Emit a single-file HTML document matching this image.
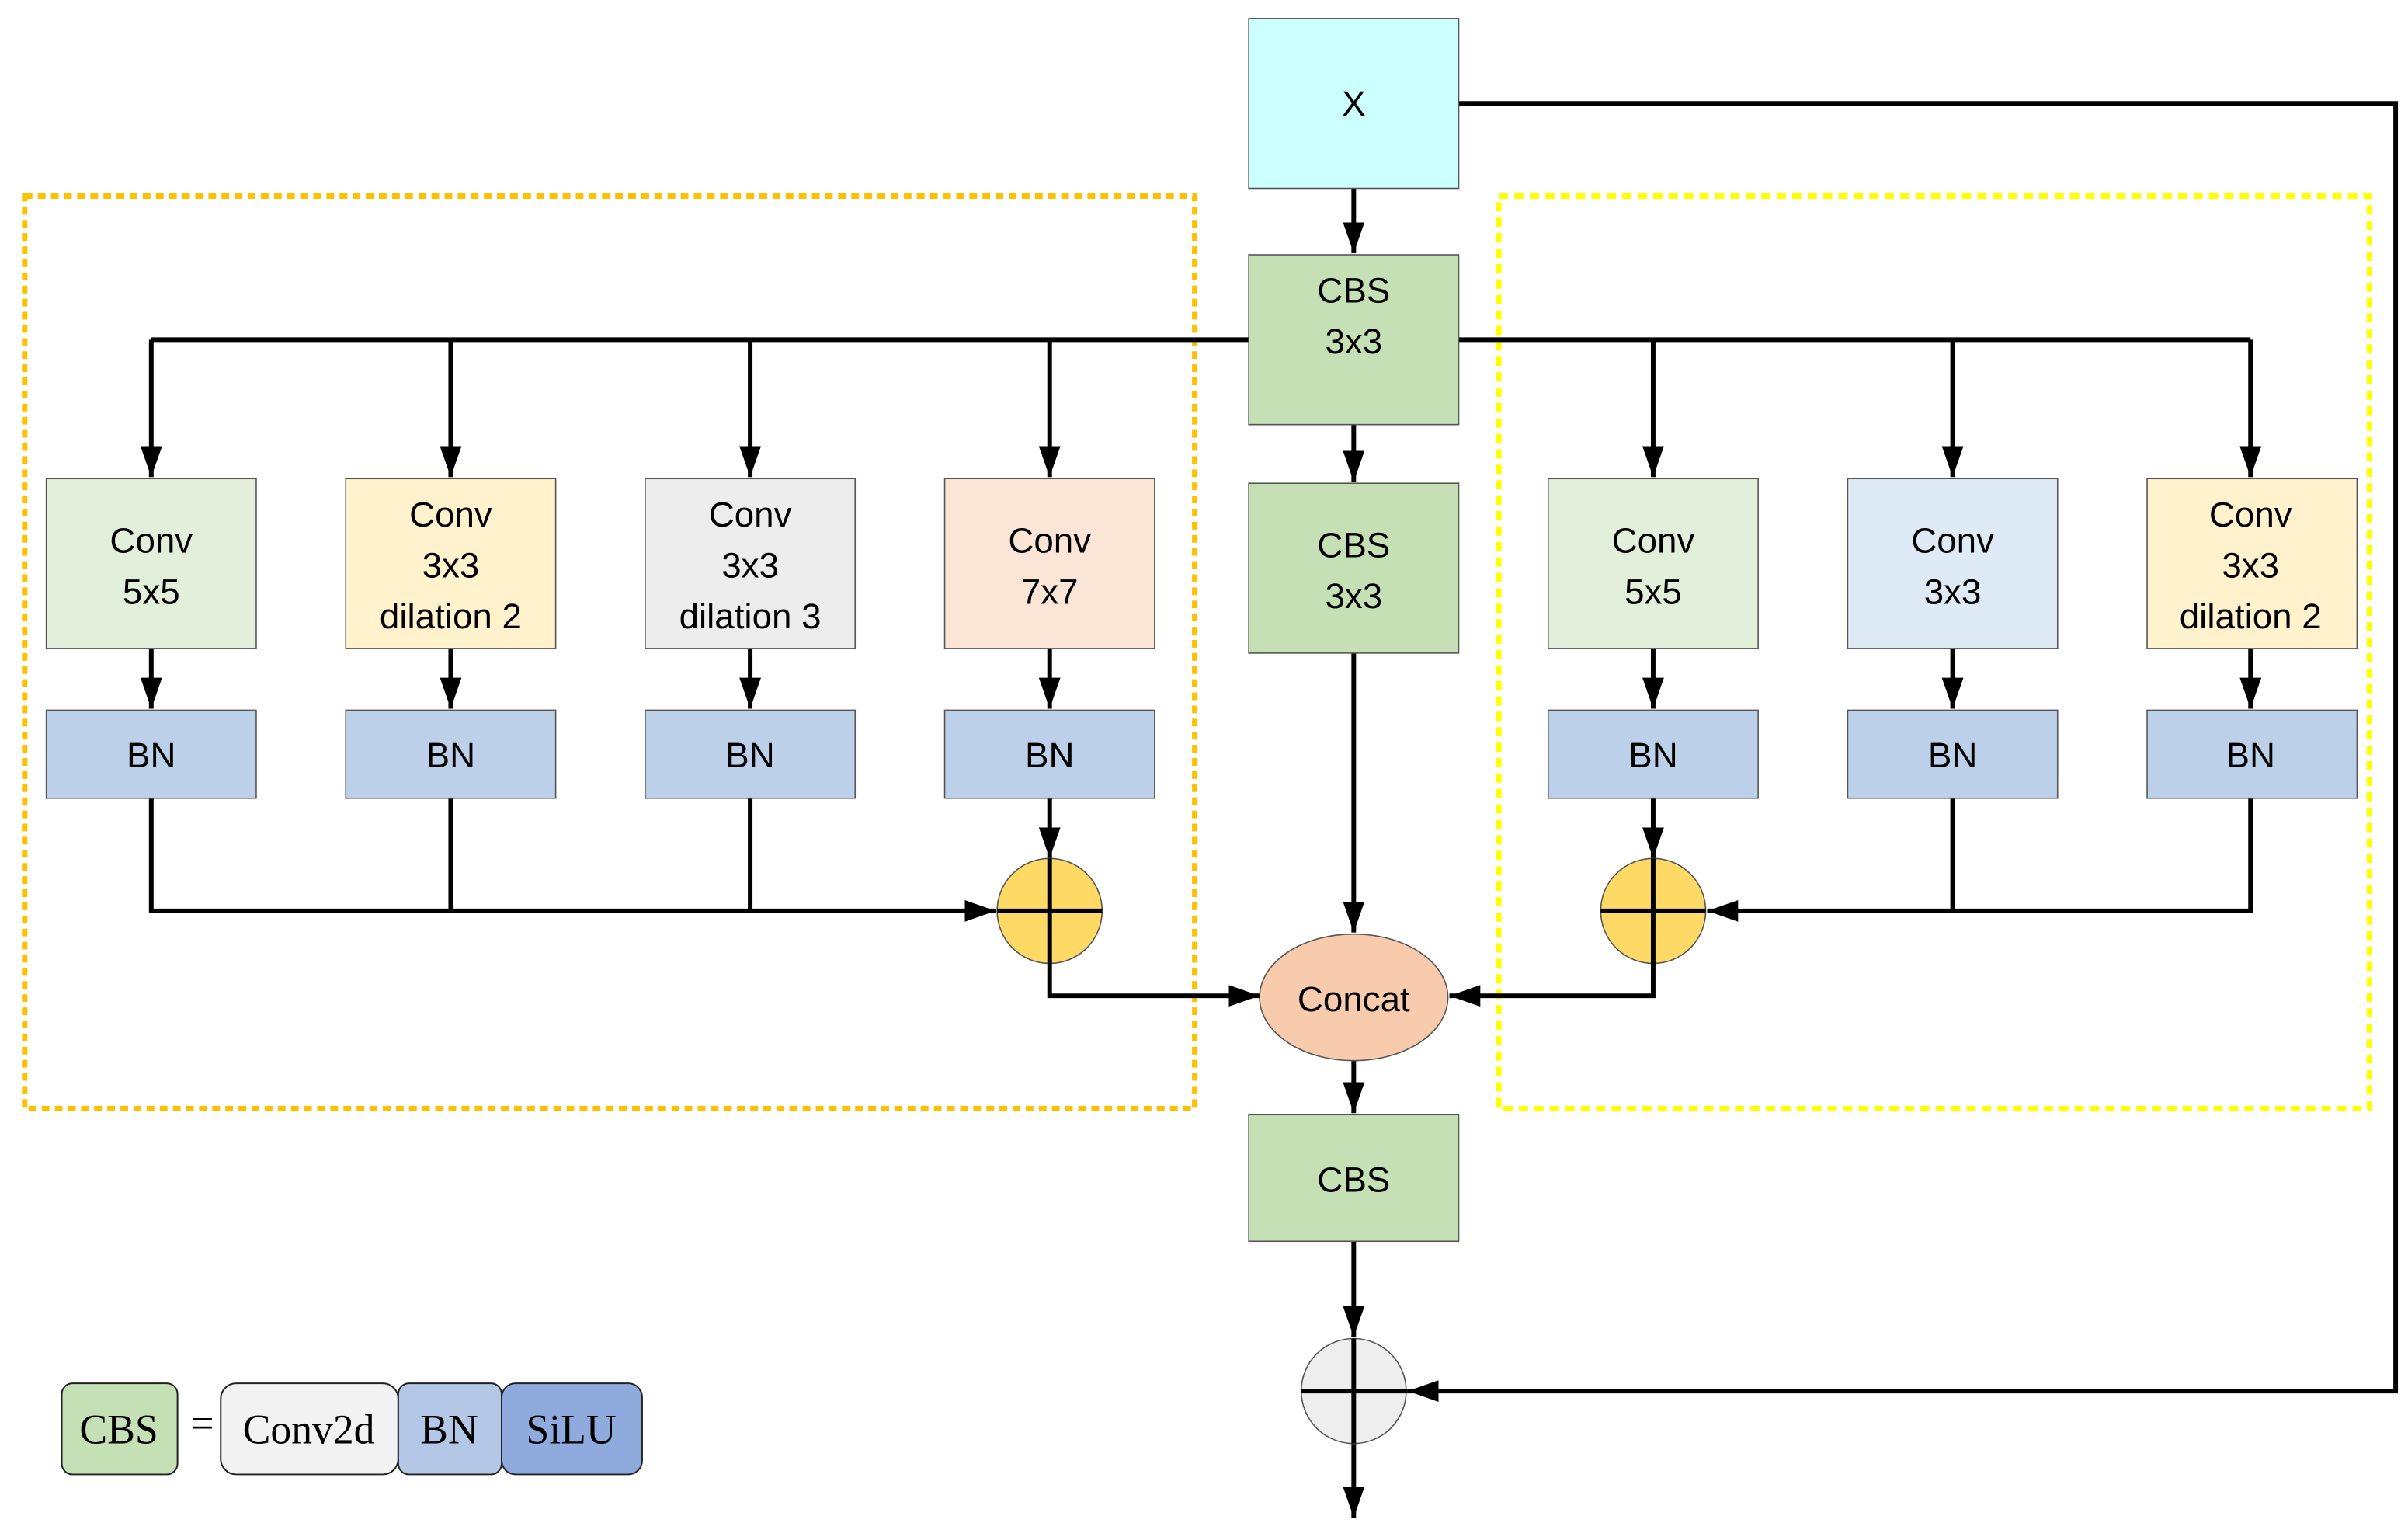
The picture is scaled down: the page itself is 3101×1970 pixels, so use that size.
<!DOCTYPE html>
<html><head><meta charset="utf-8"><style>html,body{margin:0;padding:0;background:#fff}svg{display:block}</style></head>
<body>
<svg width="3101" height="1970" viewBox="0 0 1560 991" preserveAspectRatio="none" xmlns="http://www.w3.org/2000/svg" font-family="'Liberation Sans', sans-serif">
<defs>
<marker id="b" viewBox="0 0 10 10" refX="10" refY="5" markerWidth="20" markerHeight="20" markerUnits="userSpaceOnUse" orient="auto"><path d="M0,1.5 L10,5 L0,8.5 z" fill="#000"/></marker>
</defs>
<rect x="16" y="127" width="758" height="591" fill="none" stroke="#ffc000" stroke-width="3.5" stroke-dasharray="5,3.5"/>
<rect x="971" y="127" width="564" height="591" fill="none" stroke="#ffff00" stroke-width="3.5" stroke-dasharray="6,4"/>
<g stroke="#000" stroke-width="3" fill="none">
<path d="M98,220 H1458"/>
<path d="M98,220 V309" marker-end="url(#b)"/>
<path d="M292,220 V309" marker-end="url(#b)"/>
<path d="M486,220 V309" marker-end="url(#b)"/>
<path d="M680,220 V309" marker-end="url(#b)"/>
<path d="M1071,220 V309" marker-end="url(#b)"/>
<path d="M1265,220 V309" marker-end="url(#b)"/>
<path d="M1458,220 V309" marker-end="url(#b)"/>
<path d="M877,122 V164" marker-end="url(#b)"/>
<path d="M877,275 V312" marker-end="url(#b)"/>
<path d="M877,423 V604" marker-end="url(#b)"/>
<path d="M877,687 V721" marker-end="url(#b)"/>
<path d="M877,804 V866" marker-end="url(#b)"/>
<path d="M877,935 V983" marker-end="url(#b)"/>
<path d="M945,67 H1552 V901 H912" marker-end="url(#b)"/>
<path d="M98,420 V459" marker-end="url(#b)"/>
<path d="M292,420 V459" marker-end="url(#b)"/>
<path d="M486,420 V459" marker-end="url(#b)"/>
<path d="M680,420 V459" marker-end="url(#b)"/>
<path d="M1071,420 V459" marker-end="url(#b)"/>
<path d="M1265,420 V459" marker-end="url(#b)"/>
<path d="M1458,420 V459" marker-end="url(#b)"/>
<path d="M98,517 V590 H645" marker-end="url(#b)"/>
<path d="M292,517 V590"/><path d="M486,517 V590"/>
<path d="M680,517 V556" marker-end="url(#b)"/>
<path d="M1458,517 V590 H1106" marker-end="url(#b)"/>
<path d="M1265,517 V590"/>
<path d="M1071,517 V556" marker-end="url(#b)"/>
</g>
<g stroke="#555" stroke-width="0.8">
<rect x="809" y="12" width="136" height="110" fill="#ccffff"/>
<rect x="809" y="165" width="136" height="110" fill="#c5e0b4"/>
<rect x="809" y="313" width="136" height="110" fill="#c5e0b4"/>
<rect x="809" y="722" width="136" height="82" fill="#c5e0b4"/>
<rect x="30" y="310" width="136" height="110" fill="#e2efda"/>
<rect x="224" y="310" width="136" height="110" fill="#fff2cc"/>
<rect x="418" y="310" width="136" height="110" fill="#ededed"/>
<rect x="612" y="310" width="136" height="110" fill="#fbe5d6"/>
<rect x="1003" y="310" width="136" height="110" fill="#e2efda"/>
<rect x="1197" y="310" width="136" height="110" fill="#deebf7"/>
<rect x="1391" y="310" width="136" height="110" fill="#fff2cc"/>
<rect x="30" y="460" width="136" height="57" fill="#bdd0e9"/>
<rect x="224" y="460" width="136" height="57" fill="#bdd0e9"/>
<rect x="418" y="460" width="136" height="57" fill="#bdd0e9"/>
<rect x="612" y="460" width="136" height="57" fill="#bdd0e9"/>
<rect x="1003" y="460" width="136" height="57" fill="#bdd0e9"/>
<rect x="1197" y="460" width="136" height="57" fill="#bdd0e9"/>
<rect x="1391" y="460" width="136" height="57" fill="#bdd0e9"/>
<ellipse cx="680" cy="590" rx="34" ry="34" fill="#ffd966"/>
<ellipse cx="1071" cy="590" rx="34" ry="34" fill="#ffd966"/>
<ellipse cx="877" cy="646" rx="61" ry="41" fill="#f8cbad"/>
<ellipse cx="877" cy="901" rx="34" ry="34" fill="#eeeeee"/>
</g>
<g stroke="#000" stroke-width="3" fill="none">
<path d="M646,590 H714"/><path d="M680,556 V645 H816" marker-end="url(#b)"/>
<path d="M1037,590 H1105"/><path d="M1071,556 V645 H939" marker-end="url(#b)"/>
<path d="M843,901 H912"/><path d="M877,867 V935"/>
</g>
<g font-size="23" text-anchor="middle" fill="#000">
<text x="877" y="75">X</text>
<text x="877" y="196">CBS</text><text x="877" y="229">3x3</text>
<text x="877" y="361">CBS</text><text x="877" y="394">3x3</text>
<text x="877" y="772">CBS</text>
<text x="877" y="655" font-size="23">Concat</text>
<text x="98" y="358">Conv</text><text x="98" y="391">5x5</text>
<text x="292" y="341">Conv</text><text x="292" y="374">3x3</text><text x="292" y="407">dilation 2</text>
<text x="486" y="341">Conv</text><text x="486" y="374">3x3</text><text x="486" y="407">dilation 3</text>
<text x="680" y="358">Conv</text><text x="680" y="391">7x7</text>
<text x="1071" y="358">Conv</text><text x="1071" y="391">5x5</text>
<text x="1265" y="358">Conv</text><text x="1265" y="391">3x3</text>
<text x="1458" y="341">Conv</text><text x="1458" y="374">3x3</text><text x="1458" y="407">dilation 2</text>
<text x="98" y="497">BN</text><text x="292" y="497">BN</text><text x="486" y="497">BN</text><text x="680" y="497">BN</text>
<text x="1071" y="497">BN</text><text x="1265" y="497">BN</text><text x="1458" y="497">BN</text>
</g>
<g stroke="#222" stroke-width="1">
<rect x="40" y="896" width="75" height="59" rx="7" fill="#c5e0b4"/>
<rect x="143" y="896" width="115" height="59" rx="10" fill="#f2f2f2"/>
<rect x="258" y="896" width="67" height="59" rx="7" fill="#b4c7e7"/>
<rect x="325" y="896" width="91" height="59" rx="9" fill="#8faadc"/>
</g>
<g font-family="'Liberation Serif', serif" font-size="27" text-anchor="middle" fill="#000">
<text x="77" y="935">CBS</text>
<text x="131" y="931">=</text>
<text x="200" y="935">Conv2d</text>
<text x="291" y="935">BN</text>
<text x="370" y="935">SiLU</text>
</g>
</svg>
</body></html>
